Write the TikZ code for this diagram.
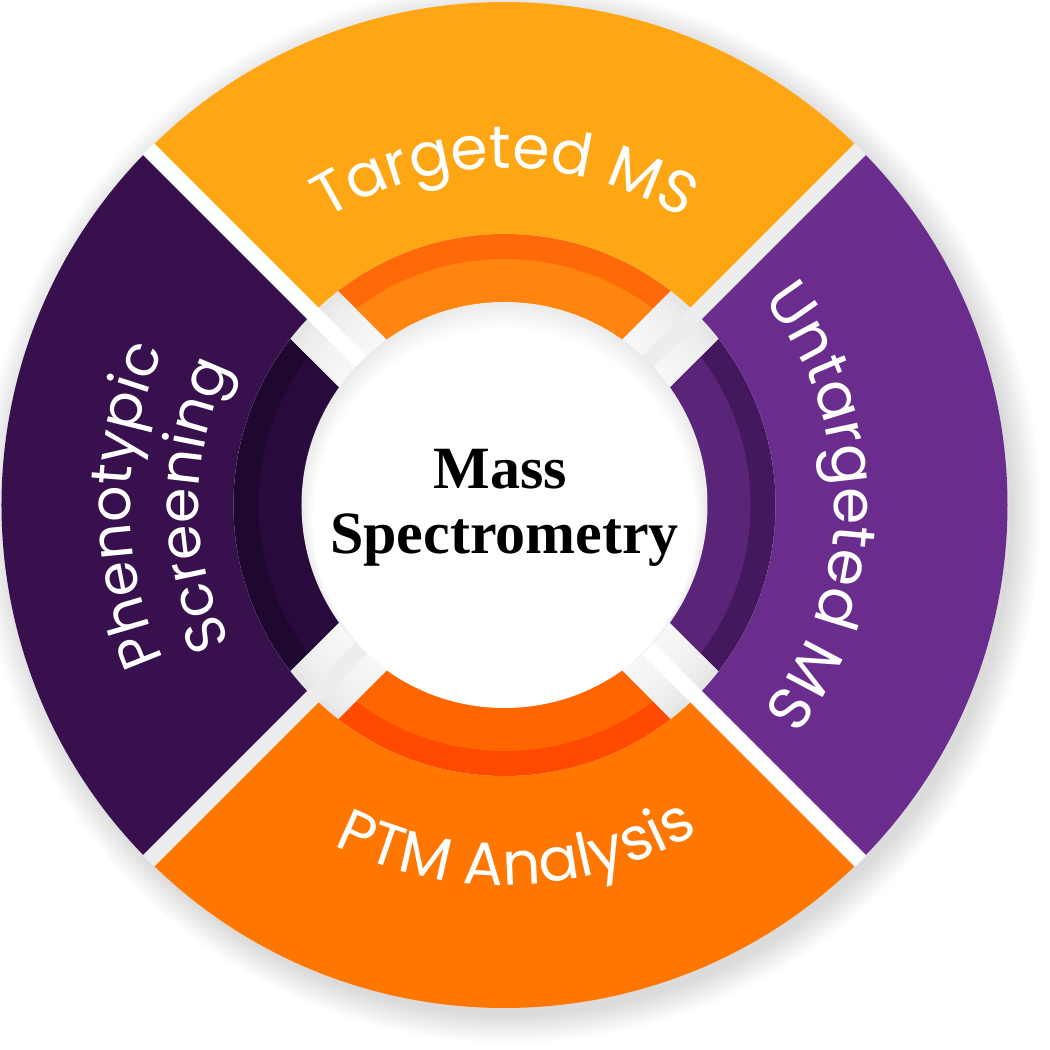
\documentclass[tikz,border=0pt]{standalone}
\usepackage{fontspec}
\setmainfont{Liberation Serif}
\newfontfamily\poppins{Poppins}
\usetikzlibrary{decorations.text}
\definecolor{topout}{HTML}{FFA614}
\definecolor{topband}{HTML}{FF6A08}
\definecolor{topin}{HTML}{FF8510}
\definecolor{rgtout}{HTML}{6A2D8E}
\definecolor{rgtband}{HTML}{43185E}
\definecolor{rgtin}{HTML}{5A2478}
\definecolor{botout}{HTML}{FF7700}
\definecolor{botband}{HTML}{FF4A00}
\definecolor{botin}{HTML}{FF6600}
\definecolor{lftout}{HTML}{37104D}
\definecolor{lftband}{HTML}{1E0830}
\definecolor{lftin}{HTML}{280B3C}
\definecolor{gapgray}{HTML}{EDEDED}
\definecolor{bandgray}{HTML}{E6E6E6}
\newcommand\seglabelfont{\poppins\fontsize{60}{60}\selectfont\color{white}}
\newcommand\seglabelfontsm{\poppins\fontsize{57}{57}\selectfont\color{white}}
\begin{document}
\begin{tikzpicture}[x=1pt,y=1pt,
  seglabel/.style={decorate, decoration={text along path, text align=center}},
  centertext/.style={font=\bfseries\fontsize{60}{65}\selectfont, text=black, anchor=base, inner sep=0pt}
]
\useasboundingbox (-504.5,-545) rectangle (545.5,505);
\fill[white] (-504.5,-545) rectangle (545.5,505);
% soft drop shadow
\foreach \k in {1,...,12} \fill[black,opacity=0.012] (6,-8) circle ({500+\k*2.5});
% outer sectors
\fill[topout] (0,0) -- (45:503) arc[start angle=45,end angle=135,radius=503] -- cycle;
\fill[lftout] (0,0) -- (135:503) arc[start angle=135,end angle=225,radius=503] -- cycle;
\fill[botout] (0,0) -- (225:503) arc[start angle=225,end angle=315,radius=503] -- cycle;
\fill[rgtout] (0,0) -- (315:503) arc[start angle=315,end angle=405,radius=503] -- cycle;
% wide band background
\fill[bandgray] (0,0) circle (271);
\foreach \k in {1,...,9} \fill[white,opacity=0.16] (0,0) circle ({271-7*\k});
% thin gaps
\begin{scope}
  \clip (0,0) circle (503.5);
  \fill[gapgray, rotate=45] (-560,-8) rectangle (560,8);
  \fill[white, rotate=-45] (-560,-8) rectangle (560,8);
\end{scope}
% inner ring pieces
\foreach \a/\cb/\ci in {90/topband/topin, 0/rgtband/rgtin, -90/botband/botin, 180/lftband/lftin} {
  \begin{scope}
    \clip[rotate={\a-90}] (0,48) -- (400,448) -- (-400,448) -- cycle;
    \fill[\cb] (0,0) circle (271);
    \fill[\ci] (0,0) circle (246);
  \end{scope}
}
% white centre with inner shadow
\fill[white] (0,0) circle (203);
\begin{scope}
  \clip (0,0) circle (203);
  \foreach \k in {1,...,10} \fill[black,opacity=0.009,even odd rule] (0,0) circle (204) (0,{-1.5*\k}) circle ({203-1.2*\k});
\end{scope}
% centre text
\node[centertext] (mass) at (-4,17) {Mass};
\node[centertext] (spectro) at (0,-48) {Spectrometry};
% segment labels
\path[seglabel, decoration={text={|\seglabelfont|Targeted MS}}] (135:337) arc[start angle=135,end angle=45,radius=337];
\path[seglabel, decoration={text={|\seglabelfont|Untargeted MS}}] (45:330) arc[start angle=45,end angle=-45,radius=330];
\path[seglabel, decoration={text={|\seglabelfont|PTM Analysis}}] (227:380) arc[start angle=227,end angle=317,radius=380];
\path[seglabel, decoration={text={|\seglabelfontsm|Phenotypic}}] (225:374) arc[start angle=225,end angle=135,radius=374];
\path[seglabel, decoration={text={|\seglabelfontsm|Screening}}] (225:306) arc[start angle=225,end angle=135,radius=306];
\end{tikzpicture}
\end{document}
